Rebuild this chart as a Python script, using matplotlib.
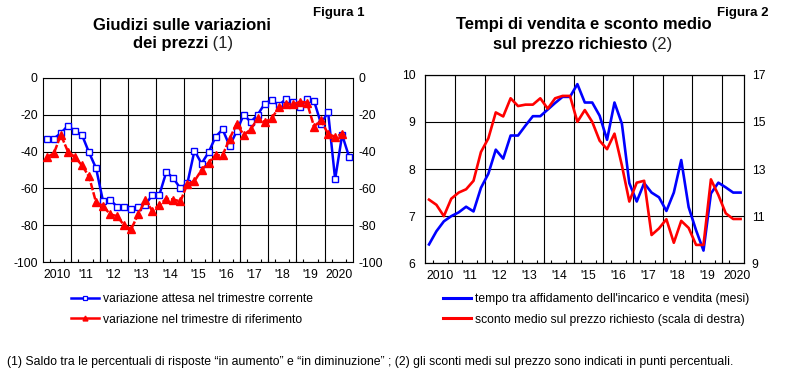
import numpy as np
import matplotlib
matplotlib.use("Agg")
import matplotlib.pyplot as plt
from matplotlib.lines import Line2D

plt.rcParams['font.family'] = ['Liberation Sans', 'DejaVu Sans']
plt.rcParams['axes.unicode_minus'] = False

# quarterly data, first value = 2010 Q1
attesa = [-33, -33, -30, -26, -29, -31, -40.5, -49, -67, -66,
          -70, -70, -71, -70, -69, -63.5, -63.5, -51, -54.5, -60,
          -57, -39.5, -46.5, -40.5, -32, -28, -37, -29, -20, -24,
          -20, -14, -12, -15, -11.5, -13, -16, -11.5, -12.5, -25,
          -18.5, -55, -31, -43]
riferimento = [-43, -41, -31, -40, -43, -47.5, -53.5, -67.5, -69.5, -74,
               -75, -80, -82, -74, -66.5, -72, -69, -65.5, -66, -67,
               -57.5, -56, -50, -46, -42, -42, -33, -25, -31, -28,
               -22, -24, -22, -16, -14, -14.5, -13, -13.5, -26.5, -23,
               -30.5, -32, -30.5]
tempo = [6.40, 6.68, 6.89, 7.0, 7.08, 7.2, 7.1, 7.6, 7.9, 8.41,
         8.22, 8.71, 8.71, 8.92, 9.12, 9.12, 9.26, 9.4, 9.53, 9.53,
         9.8, 9.41, 9.41, 9.13, 8.62, 9.41, 8.96, 7.7, 7.31, 7.7,
         7.5, 7.4, 7.11, 7.5, 8.19, 7.19, 6.7, 6.27, 7.48, 7.71,
         7.61, 7.5, 7.5]
sconto = [11.7, 11.48, 11.0, 11.74, 12.0, 12.14, 12.5, 13.72, 14.3, 15.4,
          15.23, 16.0, 15.67, 15.73, 15.73, 16.0, 15.56, 16.0, 16.1, 16.1,
          15.0, 15.5, 15.0, 14.2, 13.84, 14.5, 13.15, 11.62, 12.42, 12.5,
          10.2, 10.48, 10.87, 9.87, 10.8, 10.5, 9.78, 9.78, 12.56, 11.9,
          11.12, 10.88, 10.88]
anni = ['2010', "'11", "'12", "'13", "'14", "'15", "'16", "'17", "'18", "'19", '2020']

BLUE = '#0000ff'
RED = '#ff0000'
FS = 8.7
W, H = 790, 388

fig = plt.figure(figsize=(7.9, 3.88), dpi=100)


def px_box(x0, y0, x1, y1):
    return [x0 / W, 1 - y1 / H, (x1 - x0) / W, (y1 - y0) / H]


def setup_x(ax, nq):
    ax.set_xlim(0, nq)
    for b in range(4, nq, 4):
        ax.axvline(b, color='black', lw=0.8, zorder=1)
    centers = [4 * k + 2 for k in range(len(anni))]
    ax.set_xticks(centers)
    ax.set_xticklabels(anni)
    ax.set_xticks(np.arange(1, nq), minor=True)
    ax.tick_params(axis='x', which='major', length=0, pad=5, labelsize=FS)
    ax.tick_params(axis='x', which='minor', direction='in', length=2.5,
                   width=0.8, top=False)
    ax.yaxis.grid(True, color='black', lw=0.8)
    ax.set_axisbelow(True)
    for s in ax.spines.values():
        s.set_linewidth(0.8)
        s.set_color('black')


# ---- Figura 1
ax1 = fig.add_axes(px_box(43.3, 77.7, 352.7, 262.3))
setup_x(ax1, 44)
ax1.set_ylim(-100, 0)
ax1.set_yticks(np.arange(-100, 1, 20))
ax1.tick_params(axis='y', length=0, labelsize=FS, labelleft=True,
                labelright=True, pad=4)

ax1.plot(np.arange(len(attesa)) + 0.5, attesa, color=BLUE, lw=1.8, marker='s',
         ms=4.3, mfc='white', mec=BLUE, mew=1.0, zorder=3)
ax1.plot(np.arange(len(riferimento)) + 0.5, riferimento, color=RED, lw=1.8,
         ls=(0, (3, 0.8)), marker='^', ms=5.3, mfc=RED, mec=RED, zorder=4)

# ---- Figura 2
ax2 = fig.add_axes(px_box(425.3, 74.7, 744.3, 263.3))
setup_x(ax2, 43)
ax2.set_ylim(6, 10)
ax2.set_yticks([6, 7, 8, 9, 10])
ax2.tick_params(axis='y', length=0, labelsize=FS, pad=7.2)
ax2.plot(np.arange(len(tempo)) + 0.5, tempo, color=BLUE, lw=1.9, zorder=3)

ax2b = ax2.twinx()
ax2b.set_ylim(9, 17)
ax2b.set_yticks([9, 11, 13, 15, 17])
ax2b.tick_params(axis='y', length=0, labelsize=FS, pad=5.3)
for s in ax2b.spines.values():
    s.set_linewidth(0.8)
ax2b.plot(np.arange(len(sconto)) + 0.5, sconto, color=RED, lw=1.9, zorder=3)

# ---- titles
renderer = fig.canvas.get_renderer()


def title_line(xc, yc, bold_txt, reg_txt, size=12):
    t1 = fig.text(0, 0, bold_txt, weight='bold', size=size, va='center')
    t2 = fig.text(0, 0, reg_txt, size=size, va='center', color='#222222')
    w1 = t1.get_window_extent(renderer).width
    w2 = t2.get_window_extent(renderer).width if reg_txt else 0
    x0 = xc - (w1 + w2) / 2
    t1.set_position((x0 / W, 1 - yc / H))
    t2.set_position(((x0 + w1) / W, 1 - yc / H))


title_line(182, 25, 'Giudizi sulle variazioni', '')
title_line(183, 43.5, 'dei prezzi', ' (1)')
title_line(584, 25, 'Tempi di vendita e sconto medio', '')
title_line(582.5, 45, 'sul prezzo richiesto', ' (2)')
fig.text(339 / W, 1 - 12.7 / H, 'Figura 1', weight='bold', size=9.5, ha='center', va='center')
fig.text(742.5 / W, 1 - 12.7 / H, 'Figura 2', weight='bold', size=9.5, ha='center', va='center')

# ---- legends
h_att = Line2D([], [], color=BLUE, lw=1.8, marker='s', ms=3, mfc='white', mec=BLUE, mew=0.9)
h_rif = Line2D([], [], color=RED, lw=1.8, marker='^', ms=3.5, mfc=RED, mec=RED)
fig.legend(handles=[h_att, h_rif],
           labels=['variazione attesa nel trimestre corrente',
                   'variazione nel trimestre di riferimento'],
           loc='upper left', bbox_to_anchor=(71 / W, 1 - 293 / H), frameon=False,
           fontsize=FS, handlelength=2.35, handletextpad=0.33, labelspacing=0.72,
           borderpad=0, borderaxespad=0, numpoints=1)
h_tem = Line2D([], [], color=BLUE, lw=2.2)
h_sco = Line2D([], [], color=RED, lw=2.2)
fig.legend(handles=[h_tem, h_sco],
           labels=["tempo tra affidamento dell'incarico e vendita (mesi)",
                   'sconto medio sul prezzo richiesto (scala di destra)'],
           loc='upper left', bbox_to_anchor=(443 / W, 1 - 293 / H), frameon=False,
           fontsize=FS, handlelength=2.35, handletextpad=0.33, labelspacing=0.72,
           borderpad=0, borderaxespad=0)

fig.text(7 / W, 1 - 362 / H,
         '(1) Saldo tra le percentuali di risposte \u201cin aumento\u201d e \u201cin diminuzione\u201d ; '
         '(2) gli sconti medi sul prezzo sono indicati in punti percentuali.',
         size=8.85, ha='left', va='center')

fig.savefig('out.png', dpi=100)
